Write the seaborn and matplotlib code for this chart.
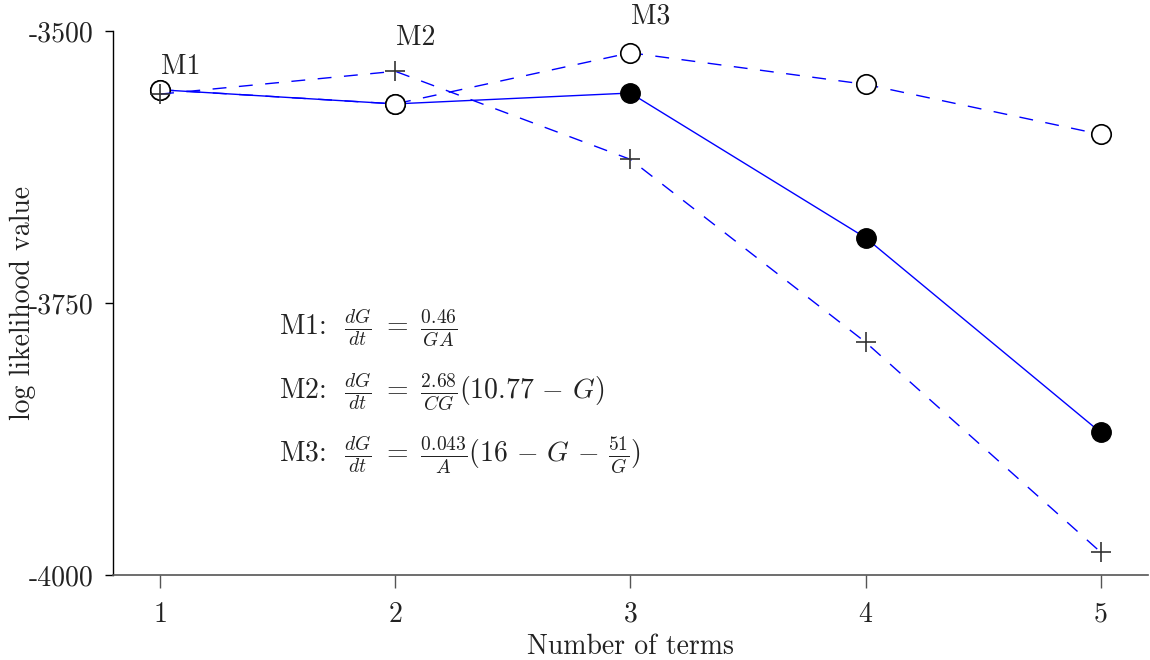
import matplotlib
matplotlib.use("Agg")
import matplotlib.pyplot as plt
import seaborn as sns
import numpy as np

sns.set_theme(style="white")
plt.rcParams['font.family'] = ['serif']
plt.rcParams['font.serif'] = ['cmr10', 'DejaVu Serif']
plt.rcParams['mathtext.fontset'] = 'cm'
plt.rcParams['axes.unicode_minus'] = False
plt.rcParams['axes.formatter.use_mathtext'] = True

# Data
terms = [1, 2, 3, 4, 5]
solid_filled = [-3554, -3567, -3557, -3690, -3869]
dashed_open = [-3554, -3567, -3520, -3549, -3595]
dashed_plus = [-3558, -3537, -3618, -3786, -3979]
yticks = [-4000, -3750, -3500]
ytick_labels = ["-4000", "-3750", "-3500"]
model_labels = ["M1", "M2", "M3"]
equations = [
    r"M1:  $\frac{dG}{dt}\ =\ \frac{0.46}{GA}$",
    r"M2:  $\frac{dG}{dt}\ =\ \frac{2.68}{CG}(10.77\,-\,G)$",
    r"M3:  $\frac{dG}{dt}\ =\ \frac{0.043}{A}(16\,-\,G\,-\,\frac{51}{G})$",
]

fig = plt.figure(figsize=(11.5, 6.6), dpi=100)
ax = fig.add_axes([0.0983, 0.1288, 0.8997, 0.8242])

fs = 20
ms = 14
dash = (0, (10, 9))

sns.lineplot(x=terms, y=solid_filled, ax=ax, color='blue', linewidth=1.0,
             marker='o', markersize=ms, markerfacecolor='black',
             markeredgecolor='black', markeredgewidth=1.0, zorder=3)
sns.lineplot(x=terms, y=dashed_open, ax=ax, color='blue', linewidth=1.0,
             linestyle=dash,
             marker='o', markersize=ms, markerfacecolor='white',
             markeredgecolor='black', markeredgewidth=1.2, zorder=4)
sns.lineplot(x=terms, y=dashed_plus, ax=ax, color='blue', linewidth=1.0,
             linestyle=dash,
             marker='+', markersize=15, markeredgecolor='#333333',
             markeredgewidth=1.2, zorder=5)

# Model labels
ax.annotate(model_labels[0], xy=(terms[0], solid_filled[0]), xytext=(21, 23),
            textcoords='offset pixels', ha='center', va='center', fontsize=fs, color='#222222')
ax.annotate(model_labels[1], xy=(terms[1], dashed_plus[1]), xytext=(20, 33),
            textcoords='offset pixels', ha='center', va='center', fontsize=fs, color='#222222')
ax.annotate(model_labels[2], xy=(terms[2], dashed_open[2]), xytext=(20, 36),
            textcoords='offset pixels', ha='center', va='center', fontsize=fs, color='#222222',
            annotation_clip=False)

# Equations
for i, eq in enumerate(equations):
    ax.text(1.506, -3773 - i * 58, eq, fontsize=fs, ha='left', va='center', color='#222222')

ax.set_xlim(0.8, 5.2)
ax.set_ylim(-4000, -3500)
ax.set_xticks(terms)
ax.set_xticklabels([str(t) for t in terms])
ax.set_yticks(yticks)
ax.set_yticklabels(ytick_labels)

for s in ['top', 'right']:
    ax.spines[s].set_visible(False)
ax.spines['left'].set_color('black')
ax.spines['left'].set_linewidth(1.0)
ax.spines['bottom'].set_color('#555555')
ax.spines['bottom'].set_linewidth(1.2)

ax.tick_params(axis='y', direction='out', length=6, width=1, color='black',
               labelsize=fs, labelcolor='#222222', left=True, pad=8)
ax.tick_params(axis='x', direction='out', length=9, width=1, color='#555555',
               labelsize=fs, labelcolor='#222222', bottom=True, pad=10)

ax.set_xlabel("Number of terms", fontsize=fs, color='#222222', labelpad=4)
ax.set_ylabel("log likelihood value", fontsize=fs, color='#222222')
ax.yaxis.set_label_coords(-0.074, 0.5)

fig.savefig("out.png", dpi=100)
